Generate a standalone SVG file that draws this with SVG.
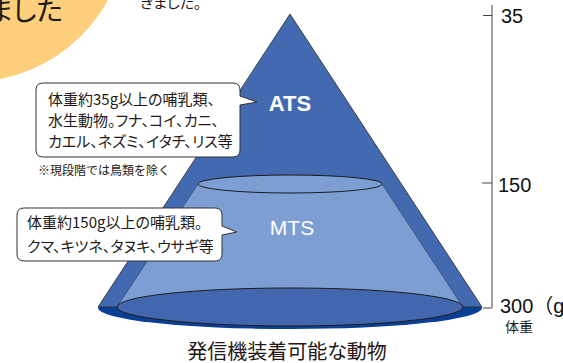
<svg xmlns="http://www.w3.org/2000/svg" width="563" height="363" viewBox="0 0 563 363">
<style>
.jp{font-family:"Noto Sans CJK JP","Noto Sans",sans-serif;fill:#231815;font-feature-settings:"palt"}
.num{font-family:"Liberation Sans","Noto Sans CJK JP",sans-serif;fill:#111}
.call{fill:#fff;stroke:#333;stroke-width:1}
.ax{stroke:#444;stroke-width:1;fill:none}
</style>
<rect width="563" height="363" fill="#fff"/>
<g id="header">
<circle cx="-30" cy="-75" r="157" fill="#fdcf7c"/>
<text class="jp" x="63" y="21" font-size="28" text-anchor="end">ました</text>
<text class="jp" x="140" y="8" font-size="15">きました。</text>
</g>
<g id="cone">
<ellipse cx="290" cy="308" rx="192" ry="21" fill="#0a3f96"/>
<path d="M290,14 L98,307 L482,307 Z" fill="#4369b1" stroke="#2a2a2a" stroke-width="0.8" stroke-linejoin="round"/>
<path d="M198,184 L117,307 A173,19 0 0 0 463,307 L382,184 Z" fill="#7d9ed3" stroke="#2b3d66" stroke-width="0.6"/>
<ellipse cx="290" cy="307" rx="173" ry="19" fill="#4267af" stroke="#1c1c1c" stroke-width="1"/>
<ellipse cx="290" cy="184" rx="92" ry="9" fill="#7d9ed3" stroke="#1c1c1c" stroke-width="1"/>
</g>
<g id="ats">
<text x="290" y="111" font-family="Liberation Sans, Arial, sans-serif" font-weight="bold" font-size="22" fill="#fff" text-anchor="middle">ATS</text>
</g>
<g id="mts">
<text x="292" y="235" font-family="Liberation Sans, Arial, sans-serif" font-size="21" fill="#fff" text-anchor="middle">MTS</text>
</g>
<g id="callout-ats">
<path class="call" d="M43,83 H233 Q240,83 240,90 V96 L257,102 L240,105 V150 Q240,157 233,157 H43 Q36,157 36,150 V90 Q36,83 43,83 Z"/>
<text class="jp" x="48" y="105" font-size="15">体重約35g以上の哺乳類、</text>
<text class="jp" x="48" y="126" font-size="15">水生動物。フナ、コイ、カニ、</text>
<text class="jp" x="48" y="147" font-size="15">カエル、ネズミ、イタチ、リス等</text>
<text class="jp" x="38" y="175" font-size="12" style="font-feature-settings:normal">※現段階では鳥類を除く</text>
</g>
<g id="callout-mts">
<path class="call" d="M24,208 H215 Q222,208 222,215 V226 L237,232 L222,235 V254 Q222,261 215,261 H24 Q17,261 17,254 V215 Q17,208 24,208 Z"/>
<text class="jp" x="27" y="228" font-size="15">体重約150g以上の哺乳類。</text>
<text class="jp" x="27" y="252" font-size="15">クマ、キツネ、タヌキ、ウサギ等</text>
</g>
<g id="axis">
<path class="ax" d="M492,5 V308 H483 M483,15.5 H492 M482,183 H492"/>
<text class="num" x="501" y="23" font-size="20">35</text>
<text class="num" x="498" y="192" font-size="20">150</text>
<text class="num" x="500" y="313" font-size="20">300（g）</text>
<text class="jp" x="505" y="332" font-size="14">体重</text>
</g>
<g id="caption">
<text class="jp" x="287" y="359" font-size="20" text-anchor="middle">発信機装着可能な動物</text>
</g>
</svg>
